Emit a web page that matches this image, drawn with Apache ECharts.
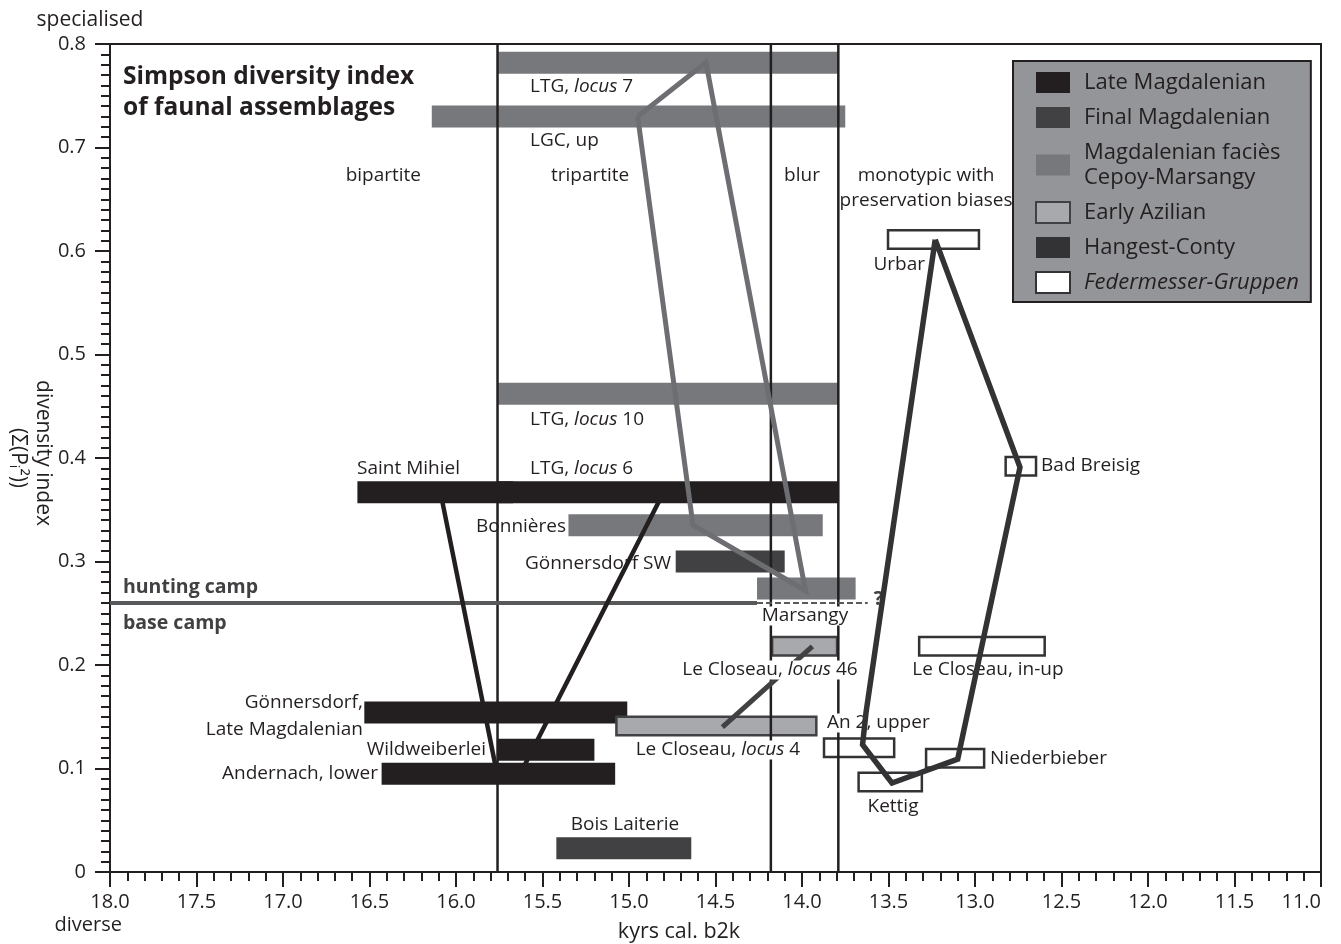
<!DOCTYPE html>
<html>
<head>
<meta charset="utf-8">
<script src="https://cdn.jsdelivr.net/npm/echarts@6/dist/echarts.min.js"></script>
<style>
html,body{margin:0;padding:0;background:#fff;}
#chart{width:1341px;height:944px;}
</style>
</head>
<body>
<div id="chart"></div>
<script>
// ---------------- DATA ----------------
// axis settings (kyrs cal. b2k, inverted) and Simpson index
const X_MIN = 11.0, X_MAX = 18.0, X_STEP = 0.5;
const Y_MIN = 0, Y_MAX = 0.8, Y_STEP = 0.1;

// categories (legend order)
const categories = ['Late Magdalenian', 'Final Magdalenian', 'Magdalenian faciès\nCepoy-Marsangy',
                    'Early Azilian', 'Hangest-Conty', 'Federmesser-Gruppen'];

// assemblages: [start kyr, end kyr, Simpson index, site]
const lateMagdalenian = [
  [16.57, 15.67, 0.367, 'Saint Mihiel'],
  [15.76, 13.79, 0.367, 'LTG, locus 6'],
  [16.53, 15.01, 0.154, 'Gönnersdorf, Late Magdalenian'],
  [15.76, 15.20, 0.118, 'Wildweiberlei'],
  [16.43, 15.08, 0.095, 'Andernach, lower']
];
const finalMagdalenian = [
  [14.73, 14.10, 0.300, 'Gönnersdorf SW'],
  [15.42, 14.64, 0.023, 'Bois Laiterie']
];
const cepoyMarsangy = [
  [15.76, 13.79, 0.782, 'LTG, locus 7'],
  [16.14, 13.75, 0.730, 'LGC, up'],
  [15.76, 13.79, 0.462, 'LTG, locus 10'],
  [15.35, 13.88, 0.335, 'Bonnières'],
  [14.26, 13.69, 0.274, 'Marsangy']
];
const earlyAzilian = [
  [14.18, 13.79, 0.218, 'Le Closeau, locus 46'],
  [15.08, 13.91, 0.141, 'Le Closeau, locus 4']
];
const hangestConty = [];
const federmesser = [
  [13.51, 12.97, 0.611, 'Urbar'],
  [12.83, 12.64, 0.392, 'Bad Breisig'],
  [13.33, 12.59, 0.218, 'Le Closeau, in-up'],
  [13.88, 13.46, 0.120, 'An 2, upper'],
  [13.29, 12.94, 0.110, 'Niederbieber'],
  [13.68, 13.30, 0.087, 'Kettig']
];

// connecting polylines: [kyr, index]
const lateMagLine   = [[16.09, 0.367], [15.77, 0.101], [15.61, 0.101], [14.80, 0.367], [16.09, 0.367]];
const cepoyLine     = [[14.95, 0.730], [14.555, 0.782], [13.98, 0.272], [14.63, 0.335], [14.95, 0.730]];
const azilianLine   = [[14.46, 0.140], [13.94, 0.218]];
const federLine     = [[13.23, 0.611], [13.63, 0.154], [13.65, 0.123], [13.48, 0.086],
                       [13.10, 0.109], [12.74, 0.391], [13.23, 0.611]];

// phase boundaries (kyr) and hunting/base camp threshold
const phaseBounds = [15.76, 14.18, 13.79];
const campValue = 0.26;
const campSolidEnd = 14.26;
const campDashedEnd = 13.62;

// annotation texts: [text, kyr, index, align, kind]   (*...* = italic)
const annotations = [
  ['Simpson diversity index', 17.925, 0.768, 'left', 'title'],
  ['of faunal assemblages', 17.925, 0.738, 'left', 'title'],
  ['bipartite', 16.42, 0.6725, 'center', ''],
  ['tripartite', 15.225, 0.6725, 'center', ''],
  ['blur', 14.0, 0.6725, 'center', ''],
  ['monotypic with', 13.283, 0.6725, 'center', ''],
  ['preservation biases', 13.283, 0.649, 'center', ''],
  ['LTG, *locus* 7', 15.572, 0.7585, 'left', ''],
  ['LGC, up', 15.572, 0.7063, 'left', ''],
  ['LTG, *locus* 10', 15.572, 0.4367, 'left', ''],
  ['LTG, *locus* 6', 15.572, 0.3894, 'left', ''],
  ['Saint Mihiel', 16.572, 0.3894, 'left', ''],
  ['Bonnières', 15.364, 0.3333, 'right', ''],
  ['Gönnersdorf SW', 14.757, 0.2976, 'right', ''],
  ['Marsangy', 13.983, 0.2473, 'center', 'bg'],
  ['Le Closeau, *locus* 46', 14.185, 0.1952, 'center', 'bg'],
  ['Le Closeau, in-up', 12.925, 0.1952, 'center', 'bg'],
  ['An 2, upper', 13.867, 0.144, 'left', 'bg'],
  ['Le Closeau, *locus* 4', 14.486, 0.1179, 'center', 'bg'],
  ['Niederbieber', 12.913, 0.1092, 'left', ''],
  ['Kettig', 13.474, 0.0628, 'center', ''],
  ['Urbar', 13.289, 0.5865, 'right', ''],
  ['Bad Breisig', 12.618, 0.3923, 'left', ''],
  ['Gönnersdorf,', 16.538, 0.1633, 'right', ''],
  ['Late Magdalenian', 16.538, 0.1372, 'right', ''],
  ['Wildweiberlei', 15.827, 0.1179, 'right', ''],
  ['Andernach, lower', 16.451, 0.0947, 'right', ''],
  ['Bois Laiterie', 15.023, 0.0454, 'center', ''],
  ['hunting camp', 17.925, 0.2754, 'left', 'bold'],
  ['base camp', 17.925, 0.2406, 'left', 'bold'],
  ['?', 13.585, 0.263, 'left', 'bold']
];

// ---------------- STYLE ----------------
const FONT = '"Open Sans","Noto Sans",sans-serif';
const INK = '#231f20';
const COL = {
  late: '#231f20', final: '#414042', cepoy: '#77787b',
  azil: '#a7a9ac', hangest: '#333335', feder: '#ffffff'
};

function barSeries(name, data, fill, stroke, lw, h) {
  return {
    type: 'custom', name: name, coordinateSystem: 'cartesian2d', z: 2,
    silent: true,
    itemStyle: { color: fill, borderColor: stroke || fill, borderWidth: lw || 0 },
    encode: { x: [0, 1], y: 2 },
    data: data.map(d => [d[0], d[1], d[2]]),
    renderItem: function (params, api) {
      const a = api.coord([api.value(0), api.value(2)]);
      const b = api.coord([api.value(1), api.value(2)]);
      const x = Math.min(a[0], b[0]);
      const w = Math.abs(b[0] - a[0]);
      const off = lw ? lw / 2 : 0;
      return {
        type: 'rect',
        shape: { x: x + off, y: a[1] - h / 2 + off, width: w - 2 * off, height: h - 2 * off },
        style: { fill: fill, stroke: lw ? stroke : null, lineWidth: lw || 0 }
      };
    }
  };
}

function lineSeries(name, pts, color, width, z, dash) {
  return {
    type: 'line', name: name, data: pts, symbol: 'none', z: z, silent: true,
    lineStyle: { color: color, width: width, join: 'miter', type: dash || 'solid', cap: 'butt' }
  };
}

function richText(t) {
  const parts = t.split('*');
  return parts.map((p, i) => p === '' ? '' : ('{' + (i % 2 ? 'i' : 'n') + '|' + p + '}')).join('');
}

const annSeries = {
  type: 'custom', name: 'annotations', coordinateSystem: 'cartesian2d', z: 6, silent: true,
  data: annotations.map((a, i) => [a[1], a[2], i]),
  renderItem: function (params, api) {
    const a = annotations[api.value(2)];
    const p = api.coord([api.value(0), api.value(1)]);
    const kind = a[4];
    let size = 19, weight = 'normal', fill = INK;
    if (kind === 'title') { size = 24.5; weight = 'bold'; }
    if (kind === 'bold') { size = 19.5; weight = 'bold'; fill = '#414042'; }
    const style = {
      text: richText(a[0]),
      x: 0, y: 0,
      align: a[3], verticalAlign: 'middle',
      fill: fill,
      fontFamily: FONT, fontSize: size, fontWeight: weight,
      rich: {
        n: { fontFamily: FONT, fontSize: size, fontWeight: weight, fill: fill, color: fill },
        i: { fontFamily: FONT, fontSize: size, fontWeight: weight, fontStyle: 'italic', fill: fill, color: fill }
      }
    };
    if (kind === 'bg') { style.backgroundColor = '#ffffff'; style.padding = [0, 2, 0, 2]; }
    return { type: 'text', x: p[0], y: p[1], style: style };
  }
};

const series = [
  barSeries(categories[0], lateMagdalenian, COL.late, null, 0, 22),
  barSeries(categories[1], finalMagdalenian, COL.final, null, 0, 22),
  barSeries(categories[2], cepoyMarsangy, COL.cepoy, null, 0, 22),
  barSeries(categories[3], earlyAzilian, COL.azil, '#414042', 2.5, 21),
  barSeries(categories[4], hangestConty, COL.hangest, null, 0, 22),
  barSeries(categories[5], federmesser, COL.feder, '#333335', 2.5, 21)
];
phaseBounds.forEach((b, i) => {
  series.push(lineSeries('bound' + i, [[b, Y_MIN], [b, Y_MAX]], INK, 2.5, 3));
});
series.push(lineSeries('camp', [[X_MAX, campValue], [campSolidEnd, campValue]], '#58595b', 4, 3));
series.push(lineSeries('campq', [[campSolidEnd, campValue], [campDashedEnd, campValue]], '#58595b', 2, 3, [6, 3]));
series.push(lineSeries('cepoyLine', cepoyLine, '#6d6e71', 5, 4));
series.push(lineSeries('lateLine', lateMagLine, INK, 4.5, 4));
series.push(lineSeries('azilLine', azilianLine, '#414042', 5, 4));
series.push(annSeries);
series.push(lineSeries('federLine', federLine, '#333335', 5.5, 7));

const option = {
  animation: false,
  backgroundColor: '#ffffff',
  textStyle: { fontFamily: FONT },
  grid: { left: 110, right: 20, top: 44, bottom: 72, show: true, borderColor: INK, borderWidth: 2, backgroundColor: 'transparent' },
  xAxis: {
    type: 'value', inverse: true, min: X_MIN, max: X_MAX, interval: X_STEP,
    axisLine: { show: true, onZero: false, lineStyle: { color: INK, width: 2 } },
    axisTick: { show: true, length: 15, lineStyle: { color: INK, width: 2 } },
    minorTick: { show: true, splitNumber: 5, length: 9, lineStyle: { color: INK, width: 2 } },
    splitLine: { show: false },
    axisLabel: { fontSize: 20, color: INK, margin: 20, fontFamily: FONT,
                 alignMinLabel: 'right', formatter: v => v.toFixed(1) }
  },
  yAxis: {
    type: 'value', min: Y_MIN, max: Y_MAX, interval: Y_STEP,
    axisLine: { show: true, onZero: false, lineStyle: { color: INK, width: 2 } },
    axisTick: { show: true, length: 15, lineStyle: { color: INK, width: 2 } },
    minorTick: { show: true, splitNumber: 10, length: 9, lineStyle: { color: INK, width: 2 } },
    splitLine: { show: false },
    axisLabel: { fontSize: 20, color: INK, margin: 24, fontFamily: FONT,
                 formatter: v => (Math.abs(v) < 1e-9 ? '0' : v.toFixed(1)) }
  },
  legend: {
    orient: 'vertical', left: 1013, top: 61,
    backgroundColor: '#939598', borderColor: INK, borderWidth: 2,
    padding: [9, 12, 7, 22],
    itemWidth: 34, itemHeight: 21, itemGap: 10,
    selectedMode: false,
    textStyle: { fontFamily: FONT, fontSize: 22, color: INK, lineHeight: 25, padding: [0, 0, 0, 9] },
    data: categories.map((c, i) => i === 5
      ? { name: c, icon: 'rect', textStyle: { fontStyle: 'italic' } }
      : { name: c, icon: 'rect' })
  },
  graphic: [
    { type: 'text', x: 90, y: 20, style: { text: 'specialised', font: '21px ' + FONT, fill: INK, align: 'center', verticalAlign: 'middle' } },
    { type: 'text', x: 122, y: 925, style: { text: 'diverse', font: '20px ' + FONT, fill: INK, align: 'right', verticalAlign: 'middle' } },
    { type: 'text', x: 679, y: 932, style: { text: 'kyrs cal. b2k', font: '21.5px ' + FONT, fill: INK, align: 'center', verticalAlign: 'middle' } },
    { type: 'text', x: 43, y: 453, rotation: -Math.PI / 2, style: { text: 'divensity index', font: '21px ' + FONT, fill: INK, align: 'center', verticalAlign: 'middle' } },
    { type: 'text', x: 18, y: 458, rotation: -Math.PI / 2, style: { text: '(Σ(Pᵢ²))', font: '21px ' + FONT, fill: INK, align: 'center', verticalAlign: 'middle' } }
  ],
  series: series
};

const chart = echarts.init(document.getElementById('chart'));
chart.setOption(option);
</script>
</body>
</html>
